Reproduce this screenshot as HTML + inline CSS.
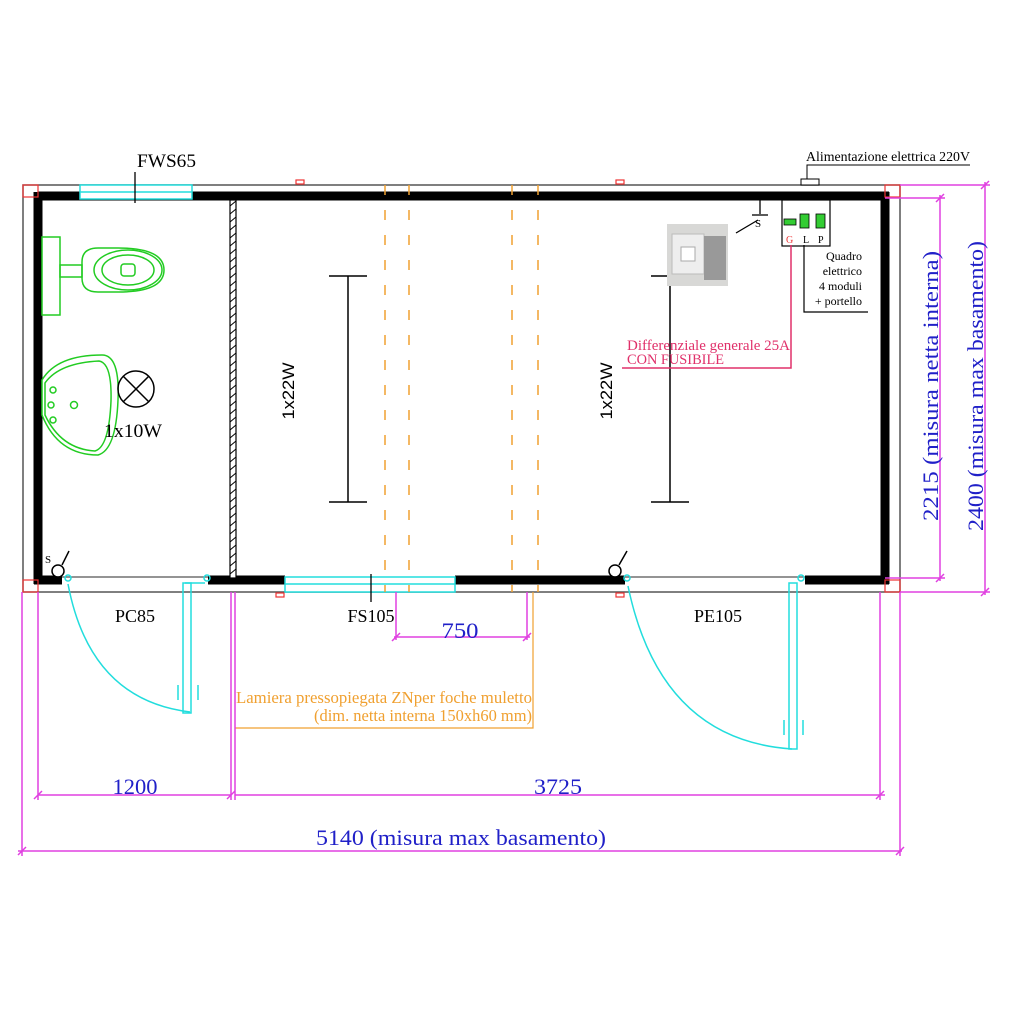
<!DOCTYPE html>
<html><head><meta charset="utf-8"><style>
html,body{margin:0;padding:0;background:#fff;}
svg{display:block;}
</style></head><body>
<svg width="1024" height="1024" viewBox="0 0 1024 1024" xmlns="http://www.w3.org/2000/svg" font-family="Liberation Serif, serif">
<g stroke="#555" stroke-width="1.5" fill="none">
<rect x="23" y="185" width="877" height="407"/>
</g>
<g stroke="#000" stroke-width="9" fill="none">
<line x1="38" y1="196" x2="889" y2="196"/>
<line x1="38" y1="192" x2="38" y2="584"/>
<line x1="885" y1="192" x2="885" y2="584"/>
<line x1="34" y1="580" x2="62" y2="580"/>
<line x1="208" y1="580" x2="285" y2="580"/>
<line x1="455" y1="580" x2="625" y2="580"/>
<line x1="805" y1="580" x2="889" y2="580"/>
</g>
<line x1="62" y1="577" x2="208" y2="577" stroke="#555" stroke-width="1.2"/>
<line x1="625" y1="577" x2="805" y2="577" stroke="#555" stroke-width="1.2"/>
<rect x="230" y="200" width="6" height="378" fill="#fff" stroke="#000" stroke-width="1.2"/>
<g stroke="#000" stroke-width="1">
<path d="M230 206l6-5M230 214l6-5M230 222l6-5M230 230l6-5M230 238l6-5M230 246l6-5M230 254l6-5M230 262l6-5M230 270l6-5M230 278l6-5M230 286l6-5M230 294l6-5M230 302l6-5M230 310l6-5M230 318l6-5M230 326l6-5M230 334l6-5M230 342l6-5M230 350l6-5M230 358l6-5M230 366l6-5M230 374l6-5M230 382l6-5M230 390l6-5M230 398l6-5M230 406l6-5M230 414l6-5M230 422l6-5M230 430l6-5M230 438l6-5M230 446l6-5M230 454l6-5M230 462l6-5M230 470l6-5M230 478l6-5M230 486l6-5M230 494l6-5M230 502l6-5M230 510l6-5M230 518l6-5M230 526l6-5M230 534l6-5M230 542l6-5M230 550l6-5M230 558l6-5M230 566l6-5M230 574l6-5"/>
</g>
<g stroke="#e33" stroke-width="1.2" fill="none">
<rect x="23" y="185" width="15" height="12"/><rect x="885" y="185" width="15" height="12"/>
<rect x="23" y="580" width="15" height="12"/><rect x="885" y="580" width="15" height="12"/>
<rect x="296" y="180" width="8" height="4"/><rect x="616" y="180" width="8" height="4"/><rect x="616" y="593" width="8" height="4"/><rect x="276" y="593" width="8" height="4"/>
</g>
<g stroke="#2dd" stroke-width="1.5" fill="#fff">
<rect x="80" y="185" width="112" height="14"/>
<line x1="80" y1="192" x2="192" y2="192"/>
<rect x="285" y="577" width="170" height="15"/>
<line x1="285" y1="584" x2="455" y2="584"/>
</g>
<line x1="135" y1="172" x2="135" y2="203" stroke="#000" stroke-width="1.3"/>
<line x1="371" y1="574" x2="371" y2="602" stroke="#000" stroke-width="1.3"/>
<g stroke="#f0a030" stroke-width="1.5" stroke-dasharray="10,15">
<line x1="385" y1="185" x2="385" y2="592"/><line x1="409" y1="185" x2="409" y2="592"/>
<line x1="512" y1="185" x2="512" y2="592"/><line x1="538" y1="185" x2="538" y2="592"/>
</g>
<polyline points="235,728 533,728 533,592" stroke="#f0a030" stroke-width="1.2" fill="none"/>
<text x="532" y="703" font-size="16.5" fill="#f0a030" text-anchor="end" textLength="296" lengthAdjust="spacingAndGlyphs">Lamiera pressopiegata ZNper foche muletto</text>
<text x="532" y="721" font-size="16.5" fill="#f0a030" text-anchor="end" textLength="218" lengthAdjust="spacingAndGlyphs">(dim. netta interna 150xh60 mm)</text>
<g stroke="#2dd" stroke-width="1.5" fill="none">
<path d="M68 584 Q90 700 190 712"/>
<rect x="183" y="583" width="8" height="130"/>
<path d="M205 583 h-20"/>
<path d="M178 685 v15 M198 685 v15"/>
<path d="M628 586 Q660 740 792 749"/>
<rect x="789" y="583" width="8" height="166"/>
<path d="M784 720 v15 M803 720 v15"/>
<circle cx="68" cy="578" r="3"/><circle cx="207" cy="578" r="3"/><circle cx="627" cy="578" r="3"/><circle cx="801" cy="578" r="3"/>
</g>
<circle cx="58" cy="571" r="6" fill="#fff" stroke="#000" stroke-width="1.5"/>
<line x1="62" y1="565" x2="69" y2="551" stroke="#000" stroke-width="1.5"/>
<text x="45" y="563" font-size="11">S</text>
<circle cx="615" cy="571" r="6" fill="#fff" stroke="#000" stroke-width="1.5"/>
<line x1="619" y1="565" x2="627" y2="551" stroke="#000" stroke-width="1.5"/>
<g stroke="#2c2" stroke-width="1.5" fill="none">
<rect x="42" y="237" width="18" height="78"/>
<rect x="60" y="265" width="22" height="12"/>
<path d="M82 262 q0-14 16-14 h20 q46 0 46 22 q0 22-46 22 h-20 q-16 0-16-14z"/>
<ellipse cx="128" cy="270" rx="34" ry="20"/>
<ellipse cx="128" cy="270" rx="26" ry="15"/>
<rect x="121" y="264" width="14" height="12" rx="3"/>
<path d="M42 380 q15-25 60-25 q18 0 16 45 q-2 50-20 55 q-40 0-56-40z"/>
<path d="M45 383 q14-20 54-22 q13 2 12 40 q-2 46-16 50 q-34-2-50-36z"/>
<circle cx="53" cy="390" r="3"/><circle cx="51" cy="405" r="3"/><circle cx="53" cy="420" r="3"/><circle cx="74" cy="405" r="3.5"/>
</g>
<circle cx="136" cy="389" r="18" fill="none" stroke="#000" stroke-width="1.5"/>
<path d="M123 376 L149 402 M149 376 L123 402" stroke="#000" stroke-width="1.5"/>
<text x="104" y="437" font-size="19" textLength="58" lengthAdjust="spacingAndGlyphs">1x10W</text>
<g stroke="#000" stroke-width="1.5">
<line x1="348" y1="276" x2="348" y2="502"/><line x1="329" y1="276" x2="367" y2="276"/><line x1="329" y1="502" x2="367" y2="502"/>
<line x1="670" y1="276" x2="670" y2="502"/><line x1="651" y1="276" x2="689" y2="276"/><line x1="651" y1="502" x2="689" y2="502"/>
</g>
<text transform="translate(294,391) rotate(-90)" font-size="17" text-anchor="middle" font-family="Liberation Sans, sans-serif" textLength="57" lengthAdjust="spacingAndGlyphs">1x22W</text>
<text transform="translate(612,391) rotate(-90)" font-size="17" text-anchor="middle" font-family="Liberation Sans, sans-serif" textLength="57" lengthAdjust="spacingAndGlyphs">1x22W</text>
<rect x="667" y="224" width="61" height="62" fill="#d8d8d6"/>
<rect x="672" y="234" width="32" height="40" fill="#eee" stroke="#bbb"/>
<rect x="704" y="236" width="22" height="44" fill="#999"/>
<rect x="681" y="247" width="14" height="14" fill="#fff" stroke="#aaa"/>
<line x1="760" y1="200" x2="760" y2="214" stroke="#000" stroke-width="1.3"/>
<line x1="752" y1="215" x2="768" y2="215" stroke="#000" stroke-width="1.3"/>
<line x1="758" y1="220" x2="736" y2="233" stroke="#000" stroke-width="1.3"/>
<text x="755" y="227" font-size="11">S</text>
<rect x="782" y="200" width="48" height="46" fill="#fff" stroke="#000" stroke-width="1.2"/>
<g fill="#3c3" stroke="#000" stroke-width="0.8">
<rect x="784" y="219" width="12" height="6"/><rect x="800" y="214" width="9" height="14"/><rect x="816" y="214" width="9" height="14"/>
</g>
<text x="786" y="243" font-size="10" fill="#e33">G</text><text x="803" y="243" font-size="10">L</text><text x="818" y="243" font-size="10">P</text>
<polyline points="804,245 804,312 868,312" stroke="#000" stroke-width="1.2" fill="none"/>
<g font-size="12" text-anchor="end">
<text x="862" y="260">Quadro</text><text x="862" y="275">elettrico</text><text x="862" y="290">4 moduli</text><text x="862" y="305">+ portello</text>
</g>
<polyline points="791,245 791,368 622,368" stroke="#e0306a" stroke-width="1.5" fill="none"/>
<text x="627" y="350" font-size="15" fill="#e0306a" textLength="163" lengthAdjust="spacingAndGlyphs">Differenziale generale 25A</text>
<text x="627" y="364" font-size="15" fill="#e0306a" textLength="97" lengthAdjust="spacingAndGlyphs">CON FUSIBILE</text>
<rect x="801" y="179" width="18" height="6" fill="#fff" stroke="#000"/>
<polyline points="807,179 807,165 970,165" stroke="#000" stroke-width="1" fill="none"/>
<text x="806" y="161" font-size="14" textLength="164" lengthAdjust="spacingAndGlyphs">Alimentazione elettrica 220V</text>
<text x="137" y="167" font-size="19" textLength="59" lengthAdjust="spacingAndGlyphs">FWS65</text>
<text x="135" y="622" font-size="18" text-anchor="middle">PC85</text>
<text x="371" y="622" font-size="18" text-anchor="middle">FS105</text>
<text x="718" y="622" font-size="18" text-anchor="middle">PE105</text>
<g stroke="#e040e0" stroke-width="1.5" fill="none">
<line x1="22" y1="592" x2="22" y2="856"/><line x1="38" y1="592" x2="38" y2="800"/>
<line x1="231" y1="592" x2="231" y2="800"/><line x1="235" y1="592" x2="235" y2="800"/>
<line x1="880" y1="592" x2="880" y2="800"/><line x1="900" y1="592" x2="900" y2="856"/>
<line x1="38" y1="795" x2="231" y2="795"/><line x1="235" y1="795" x2="885" y2="795"/>
<line x1="18" y1="851" x2="902" y2="851"/>
<line x1="396" y1="592" x2="396" y2="640"/><line x1="527" y1="592" x2="527" y2="640"/>
<line x1="394" y1="637" x2="530" y2="637"/>
<line x1="885" y1="198" x2="945" y2="198"/><line x1="885" y1="578" x2="945" y2="578"/>
<line x1="940" y1="195" x2="940" y2="581"/>
<line x1="900" y1="185" x2="990" y2="185"/><line x1="900" y1="592" x2="990" y2="592"/>
<line x1="985" y1="182" x2="985" y2="595"/>
<path d="M34 799l8-8M227 799l8-8M876 799l8-8M18 855l8-8M896 855l8-8M392 641l8-8M523 641l8-8M936 202l8-8M936 582l8-8M981 189l8-8M981 596l8-8"/>
</g>
<g fill="#2020c8" font-size="22" lengthAdjust="spacingAndGlyphs">
<text x="135" y="794" text-anchor="middle" textLength="45" lengthAdjust="spacingAndGlyphs">1200</text>
<text x="558" y="794" text-anchor="middle" textLength="48" lengthAdjust="spacingAndGlyphs">3725</text>
<text x="460" y="638" text-anchor="middle" textLength="37" lengthAdjust="spacingAndGlyphs">750</text>
<text x="461" y="845" text-anchor="middle" textLength="290" lengthAdjust="spacingAndGlyphs">5140 (misura max basamento)</text>
<text transform="translate(938,386) rotate(-90)" text-anchor="middle" textLength="270" lengthAdjust="spacingAndGlyphs">2215 (misura netta interna)</text>
<text transform="translate(983,386) rotate(-90)" text-anchor="middle" textLength="290" lengthAdjust="spacingAndGlyphs">2400 (misura max basamento)</text>
</g>
</svg>
</body></html>
